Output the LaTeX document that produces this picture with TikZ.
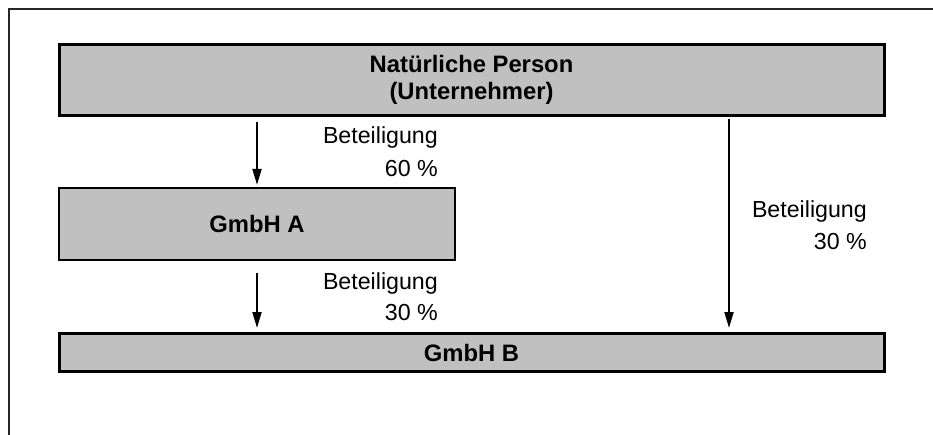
\documentclass[tikz,border=0pt]{standalone}
\usepackage{fontspec}
\setmainfont{Liberation Sans}
\usetikzlibrary{arrows.meta}
\definecolor{boxgray}{HTML}{C0C0C0}
\tikzset{
  box/.style={draw=black, fill=boxgray, inner sep=0pt, line width=3pt,
    font=\fontsize{23.8}{27}\selectfont\bfseries, align=center},
  lbl/.style={inner sep=0pt, anchor=base east, font=\fontsize{23.2}{28}\selectfont},
  arr/.style={line width=2pt, -{Triangle[length=16pt,width=9pt]}},
  frame/.style={line width=2pt, draw=black!85}
}
\begin{document}
\begin{tikzpicture}[x=1pt,y=-1pt]
\useasboundingbox (0,0) rectangle (933,434);
\draw[frame] (8.5,440) -- (8.5,8.5) -- (940,8.5);
\node[box, minimum width=825pt, minimum height=71pt] (top) at (471.5,79.5)
  {Natürliche Person\\(Unternehmer)};
\node[box, line width=2.3pt, minimum width=396pt, minimum height=72pt] (A) at (257,224) {GmbH A};
\node[box, minimum width=825pt, minimum height=38pt] (B) at (471.5,352.5) {GmbH B};
\node[lbl] (l1a) at (438,143) {Beteiligung};
\node[lbl] (l1b) at (438,176) {60 \%};
\node[lbl] (l2a) at (438,289) {Beteiligung};
\node[lbl] (l2b) at (438,320) {30 \%};
\node[lbl] (l3a) at (867,217) {Beteiligung};
\node[lbl] (l3b) at (867,249) {30 \%};
\coordinate (rx) at (729,0);
\draw[arr, shorten <=5pt, shorten >=2pt] (top.south -| A) -- (A.north);
\draw[arr, shorten <=12pt, shorten >=4pt] (A.south) -- (B.north -| A);
\draw[arr, shorten <=2pt, shorten >=4pt] (top.south -| rx) -- (B.north -| rx);
\end{tikzpicture}
\end{document}
